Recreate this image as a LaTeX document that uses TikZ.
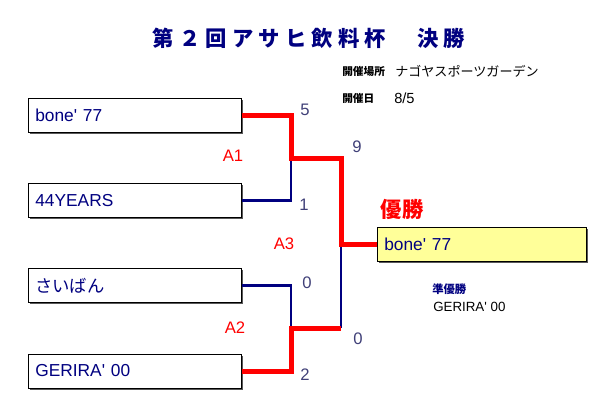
\documentclass[tikz,border=0pt]{standalone}
\usepackage{fontspec}
\setmainfont{Liberation Sans}
\newfontfamily\jp{Noto Sans CJK JP}
\newfontfamily\jptitle[LetterSpace=24]{Noto Sans CJK JP}
\usetikzlibrary{positioning,shadows}
\definecolor{navy}{RGB}{0,0,128}
\definecolor{scoreblue}{RGB}{64,64,120}
\definecolor{champyellow}{RGB}{255,255,153}

\begin{document}
\begin{tikzpicture}[x =0.75pt ,y =-0.75pt ,node distance =64pt ,on grid ,
team/.style ={ rectangle ,draw =black ,line width =0.75pt ,fill =white ,
text =navy ,font =\fontsize{13}{15}\selectfont ,inner xsep =5.5pt ,
text width =148.75pt ,minimum height =25.5pt ,align =left ,
drop shadow ={shadow xshift =1.2pt ,shadow yshift =-1.2pt ,fill =black!65 ,opacity =1}},
score/.style ={text =scoreblue ,font =\fontsize{12.5}{14}\selectfont},
match/.style ={text =red ,font =\fontsize{12.5}{14}\selectfont},
info/.style ={anchor =west ,inner sep =0pt},
win/.style ={draw =red ,line width =3.75pt},
lose/.style ={draw =navy ,line width =2pt}]
\useasboundingbox (0,0) rectangle (612,419);
\node[text =navy ,font ={\fontsize{16}{18}\selectfont\jptitle\bfseries}] (title) at (309,38) {第２回アサヒ飲料杯　決勝};
\node[info ,font ={\fontsize{8}{10}\selectfont\jp\bfseries}] (place) at (342,71) {開催場所};
\node[info ,font ={\fontsize{9.8}{11}\selectfont\jp}] (placename) at (395,71) {ナゴヤスポーツガーデン};
\node[info ,font ={\fontsize{8}{10}\selectfont\jp\bfseries}] (date) at (342,98) {開催日};
\node[info ,font =\fontsize{11}{12}\selectfont] (datevalue) at (394,98) {8/5};
\node[team] (b1) at (134.5,115) {bone\textquotesingle\ 77};
\node[team] (b2) [below =of b1] {44YEARS};
\node[team] (b3) [below =of b2] {\jp さいばん};
\node[team] (b4) [below =of b3] {GERIRA\textquotesingle\ 00};
\node[team ,fill =champyellow ,text width =145.75pt] (champ) at (481.5,244.5) {bone\textquotesingle\ 77};
\node[text =red ,font ={\fontsize{16}{18}\selectfont\jp\bfseries}] (winner) at (402,209) {優勝};
\node[info ,text =navy ,font ={\fontsize{8.5}{10}\selectfont\jp\bfseries}] (second) at (432,289) {準優勝};
\node[info ,font =\fontsize{10}{12}\selectfont] (secondname) at (433,307) {GERIRA\textquotesingle\ 00};
\coordinate (j1) at (291,158);
\coordinate (j2) at (291,328);
\coordinate (j3) at (341,244.5);
\coordinate (j4) at (341,328);
\draw[lose] (b2.east) -| (j1);
\draw[lose] (b3.east) -| (j2);
\draw[lose] (j4) -- (j3);
\draw[win] (b1.east) -| (j1) -| (j3) -- (champ.west);
\draw[win] (b4.east) -| (j2) -- (j4);
\node[score] (s1) at (305,110) {5};
\node[score] (s2) at (304,205) {1};
\node[score] (s3) at (307,283) {0};
\node[score] (s4) at (305,375) {2};
\node[score] (s5) at (357,147) {9};
\node[score] (s6) at (358,339) {0};
\node[match] (m1) at (233,156) {A1};
\node[match] (m2) at (235,328) {A2};
\node[match] (m3) at (284,244) {A3};
\end{tikzpicture}
\end{document}
